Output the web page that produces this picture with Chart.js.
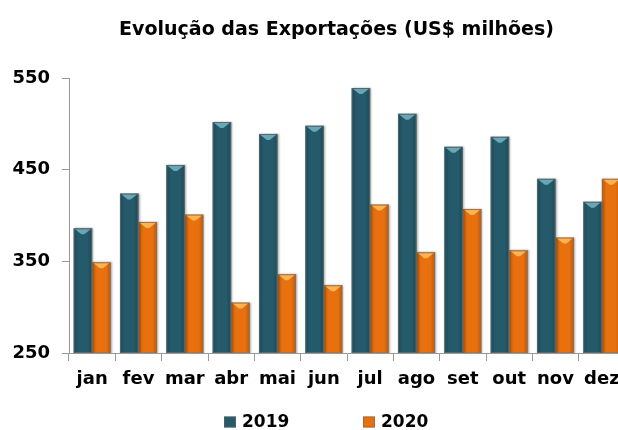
<!DOCTYPE html>
<html>
<head>
<meta charset="utf-8">
<script src="https://cdn.jsdelivr.net/npm/chart.js@4/dist/chart.umd.min.js"></script>
<style>
html,body{margin:0;padding:0;overflow:hidden;background:#fff;}
canvas{display:block;}
</style>
</head>
<body>
<canvas id="c" width="630" height="430"></canvas>
<script>
const months = ['jan','fev','mar','abr','mai','jun','jul','ago','set','out','nov','dez'];
const exports2019 = [386, 424, 455, 502, 489, 498, 539, 511, 475, 486, 440, 415];
const exports2020 = [349, 393, 401, 305, 336, 324, 412, 360, 407, 362, 376, 440];
const seriesLabels = ['2019', '2020'];
const yTicks = [250, 350, 450, 550];
const titleText = 'Evolução das Exportações (US$ milhões)';

const FONT = "'DejaVu Sans', sans-serif";
const colors = ['#245a6a', '#e8700e'];
const highlights = ['#6aa7b6', '#fcb453'];

const bevelPlugin = {
  id: 'bevel',
  afterLayout(chart) {
    if (chart.titleBlock) { chart.titleBlock.left = 48; }
  },
  beforeDatasetsDraw(chart) {
    const ctx = chart.ctx;
    ctx.save();
    ctx.shadowColor = 'rgba(0,0,0,0.35)';
    ctx.shadowBlur = 2;
    ctx.shadowOffsetX = 1;
    ctx.shadowOffsetY = 0;
  },
  afterDatasetsDraw(chart) {
    const ctx = chart.ctx;
    ctx.restore();
    ctx.save();
    const bottom = chart.chartArea.bottom;
    chart.data.datasets.forEach((ds, di) => {
      const meta = chart.getDatasetMeta(di);
      meta.data.forEach(bar => {
        const w = bar.width, left = bar.x - w / 2, right = bar.x + w / 2;
        const top = bar.y, base = Math.min(bar.base, bottom);
        const g = ctx.createLinearGradient(left, 0, right, 0);
        g.addColorStop(0, 'rgba(0,0,0,0.2)');
        g.addColorStop(0.25, 'rgba(0,0,0,0)');
        g.addColorStop(0.75, 'rgba(0,0,0,0)');
        g.addColorStop(1, 'rgba(0,0,0,0.2)');
        ctx.fillStyle = g;
        ctx.fillRect(left, top, w, base - top);
        ctx.fillStyle = highlights[di];
        ctx.beginPath();
        ctx.moveTo(left + 1.5, top + 1);
        ctx.lineTo(right - 1.5, top + 1);
        ctx.lineTo(bar.x + 1.5, top + 6);
        ctx.lineTo(bar.x - 1.5, top + 6);
        ctx.closePath();
        ctx.fill();
        ctx.strokeStyle = 'rgba(120,120,120,0.6)';
        ctx.lineWidth = 1;
        ctx.strokeRect(left + 0.5, top + 0.5, w - 1, base - top - 1);
      });
    });
    ctx.restore();
  }
};

const legendPlugin = {
  id: 'customLegend',
  afterDraw(chart) {
    const ctx = chart.ctx;
    ctx.save();
    const positions = [224, 363];
    const cy = 422;
    ctx.font = 'bold 17px ' + FONT;
    ctx.textBaseline = 'middle';
    ctx.textAlign = 'left';
    chart.data.datasets.forEach((ds, i) => {
      const x = positions[i];
      ctx.fillStyle = ds.backgroundColor;
      ctx.fillRect(x, cy - 5.5, 12, 11);
      ctx.strokeStyle = 'rgba(100,100,100,0.6)';
      ctx.strokeRect(x + 0.5, cy - 5, 11, 10);
      ctx.fillStyle = '#000';
      ctx.fillText(ds.label, x + 18, cy + 0.5);
    });
    ctx.restore();
  }
};

new Chart(document.getElementById('c'), {
  type: 'bar',
  data: {
    labels: months,
    datasets: [
      { label: seriesLabels[0], data: exports2019, backgroundColor: colors[0], borderWidth: 0 },
      { label: seriesLabels[1], data: exports2020, backgroundColor: colors[1], borderWidth: 0 }
    ]
  },
  options: {
    responsive: false,
    animation: false,
    devicePixelRatio: 1,
    layout: { padding: { left: 0, right: 5, top: 0, bottom: 37 } },
    datasets: { bar: { categoryPercentage: 0.8, barPercentage: 1.0 } },
    plugins: {
      legend: { display: false },
      tooltip: { enabled: false },
      title: {
        display: true,
        text: titleText,
        color: '#000',
        font: { family: FONT, size: 19, weight: 'bold' },
        padding: { top: 18.6, bottom: 36.6 }
      }
    },
    scales: {
      x: {
        grid: { drawOnChartArea: false, offset: true, tickLength: 8, color: '#999' },
        border: { display: true, color: '#999', width: 1 },
        ticks: { color: '#000', font: { family: FONT, size: 18, weight: 'bold' }, padding: 8, maxRotation: 0, autoSkip: false },
        afterFit(scale) { scale.height = 40; }
      },
      y: {
        min: yTicks[0],
        max: yTicks[yTicks.length - 1],
        afterBuildTicks(scale) { scale.ticks = yTicks.map(v => ({ value: v })); },
        grid: { drawOnChartArea: false, tickLength: 7, color: '#999' },
        border: { display: true, color: '#999', width: 1 },
        ticks: { color: '#000', font: { family: FONT, size: 18, weight: 'bold' }, padding: 12 },
        afterFit(scale) { scale.width = 69; }
      }
    }
  },
  plugins: [bevelPlugin, legendPlugin]
});
</script>
</body>
</html>
